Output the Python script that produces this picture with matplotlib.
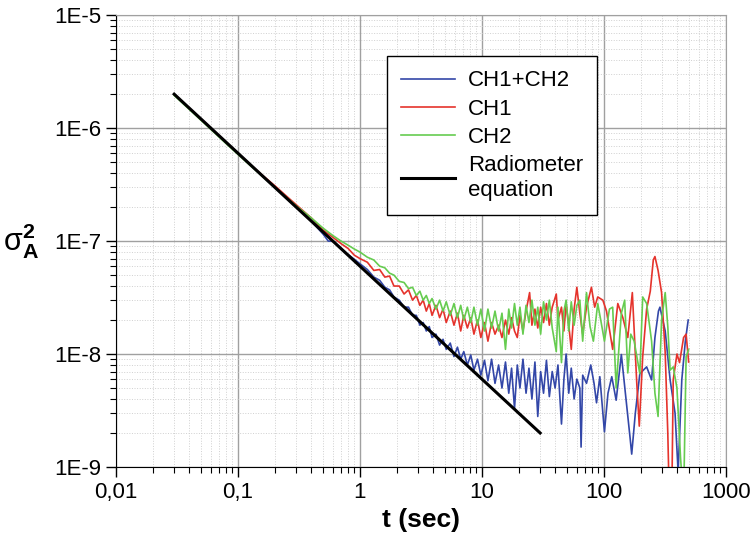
import matplotlib.pyplot as plt
from matplotlib.ticker import LogLocator, NullFormatter

plt.rcParams['font.family'] = ['Liberation Sans', 'DejaVu Sans']
plt.rcParams['mathtext.fontset'] = 'custom'
plt.rcParams['mathtext.rm'] = 'Liberation Sans'
plt.rcParams['mathtext.bf'] = 'Liberation Sans:bold'
plt.rcParams['mathtext.default'] = 'regular'

# radiometer equation
t_rad = [0.03, 30]
y_rad = [2.0e-6, 2.0e-9]

# CH1+CH2
t_blue = [0.03, 0.05, 0.08, 0.12, 0.2, 0.3, 0.4, 0.5, 0.55, 0.6, 0.7, 0.8, 0.9,
          1.0, 1.15, 1.3, 1.45, 1.6, 1.75, 1.9, 2.1, 2.3, 2.5, 2.7, 2.9, 3.1, 3.3,
          3.5, 3.7, 3.9, 4.2, 4.5, 4.8, 5.1, 5.5, 5.9, 6.3, 6.7, 7.1, 7.6, 8.1,
          8.6, 9.2, 9.8, 10.5, 11.2, 12.0, 12.8, 13.7, 14.6, 15.6, 16.6, 17.5,
          18.5, 19.5, 20.5, 21.7, 23.0, 24.3, 25.7, 27.2, 28.7, 30.3, 32.0, 33.8,
          35.7, 37.7, 39.8, 42.0, 44.9, 47.0, 49.0, 51.5, 54.0, 57.0, 60.0, 63.5,
          65.0, 67.0, 72.0, 78.0, 83.0, 87.0, 92.6, 101, 108, 116, 126, 139, 150,
          164, 169, 181, 197, 224, 246, 262, 280, 288, 318, 349, 383, 406, 435,
          465, 491]
y_blue = [2.0e-6, 1.2e-6, 7.5e-7, 5.0e-7, 3.0e-7, 2.0e-7, 1.5e-7, 1.15e-7, 1.0e-7,
          1.0e-7, 8.6e-8, 7.6e-8, 6.9e-8,
          6.3e-8, 5.6e-8, 4.8e-8, 4.5e-8, 3.9e-8, 3.7e-8, 3.2e-8, 3.0e-8, 2.6e-8,
          2.6e-8, 2.2e-8, 2.2e-8, 1.8e-8, 1.9e-8,
          1.6e-8, 1.75e-8, 1.4e-8, 1.5e-8, 1.2e-8, 1.35e-8, 1.1e-8, 1.25e-8, 9.5e-9,
          1.15e-8, 9.0e-9, 1.05e-8, 8.0e-9, 9.8e-9,
          7.2e-9, 9.0e-9, 6.5e-9, 8.8e-9, 5.8e-9, 9.0e-9, 5.5e-9, 8.0e-9, 5.0e-9,
          8.5e-9, 4.5e-9, 7.5e-9,
          3.3e-9, 8.0e-9, 5.0e-9, 9.0e-9, 4.5e-9, 7.5e-9, 4.0e-9, 8.5e-9, 2.8e-9,
          7.0e-9, 4.5e-9, 8.8e-9,
          4.2e-9, 7.0e-9, 5.0e-9, 8.0e-9, 2.4e-9, 6.0e-9, 1.0e-8, 4.5e-9, 7.5e-9,
          4.0e-9, 6.0e-9, 5.0e-9,
          1.5e-9, 6.5e-9, 5.5e-9, 8.0e-9, 5.5e-9, 3.7e-9, 6.3e-9, 2.05e-9, 4.5e-9,
          6.3e-9, 3.9e-9, 9.9e-9, 4.5e-9,
          1.8e-9, 1.3e-9, 3.0e-9, 6.7e-9, 7.7e-9, 5.9e-9, 1.4e-8, 2.4e-8, 2.6e-8,
          1.6e-8, 5.9e-9, 3.0e-9, 9.0e-10, 5.9e-9,
          1.3e-8, 2.0e-8]

# CH1
t_red = [0.03, 0.05, 0.08, 0.12, 0.16, 0.2, 0.25, 0.3, 0.4, 0.5, 0.6, 0.7, 0.8,
         0.9, 1.0, 1.15, 1.3, 1.45, 1.6, 1.75, 1.9, 2.1, 2.3, 2.5, 2.7, 2.9, 3.1,
         3.3, 3.5, 3.7, 3.9, 4.2, 4.5, 4.8, 5.1, 5.5, 5.9, 6.3, 6.7, 7.1, 7.6,
         8.1, 8.6, 9.2, 9.8, 10.5, 11.2, 12.0, 12.8, 13.7, 14.6, 15.6, 16.6, 17.5,
         18.5, 19.5, 20.5, 21.7, 23.0, 24.6, 25.7, 27.2, 28.7, 30.3, 32.0, 33.8,
         35.7, 37.7, 40.7, 42.0, 44.9, 47.0, 49.0, 51.5, 54.0, 57.0, 60.0, 63.5,
         67, 72, 79, 84, 89, 98, 105, 118, 130, 143, 157, 171, 186, 195, 208,
         224, 240, 254, 262, 278, 297, 318, 334, 344, 360, 370, 397, 417, 450,
         472, 495]
y_red = [2.0e-6, 1.2e-6, 7.5e-7, 5.0e-7, 3.8e-7, 3.1e-7, 2.5e-7, 2.1e-7, 1.6e-7,
         1.25e-7, 1.08e-7, 9.5e-8, 8.6e-8,
         7.5e-8, 7.0e-8, 6.5e-8, 5.5e-8, 5.6e-8, 4.8e-8, 4.9e-8, 4.0e-8, 4.0e-8,
         3.4e-8, 3.7e-8, 3.0e-8, 3.3e-8, 2.7e-8,
         3.0e-8, 2.4e-8, 2.8e-8, 2.2e-8, 2.7e-8, 2.1e-8, 2.5e-8, 1.9e-8, 2.4e-8,
         1.8e-8, 2.3e-8, 1.6e-8, 2.2e-8, 1.7e-8,
         2.1e-8, 1.5e-8, 2.0e-8, 1.4e-8, 1.9e-8, 1.3e-8, 1.9e-8, 1.5e-8, 1.8e-8,
         1.4e-8, 2.0e-8, 1.5e-8, 2.1e-8,
         1.6e-8, 1.4e-8, 2.2e-8, 1.6e-8, 2.4e-8, 3.5e-8, 1.8e-8, 2.5e-8, 1.7e-8,
         2.6e-8, 1.9e-8, 2.8e-8,
         1.8e-8, 2.6e-8, 3.4e-8, 2.0e-8, 2.6e-8, 1.6e-8, 2.8e-8, 1.8e-8, 1.1e-8,
         2.5e-8, 3.9e-8, 2.3e-8,
         1.5e-8, 2.6e-8, 3.9e-8, 2.6e-8, 3.2e-8, 3.0e-8, 2.4e-8, 1.1e-8, 2.8e-8,
         2.1e-8, 1.4e-8, 3.5e-8, 5.5e-9, 2.3e-9, 9.5e-9,
         2.5e-8, 3.6e-8, 6.8e-8, 7.3e-8, 5.5e-8, 3.5e-8, 1.03e-8, 2.0e-9, 5.0e-10,
         5.0e-10, 5.9e-9, 1.0e-8, 8.4e-9, 1.4e-8,
         1.5e-8, 8.5e-9]

# CH2
t_green = [0.03, 0.05, 0.08, 0.12, 0.2, 0.3, 0.4, 0.5, 0.6, 0.7, 0.8, 0.9, 1.0,
           1.15, 1.3, 1.45, 1.6, 1.75, 1.9, 2.1, 2.3, 2.5, 2.7, 2.9, 3.1, 3.3,
           3.5, 3.7, 3.9, 4.2, 4.5, 4.8, 5.1, 5.5, 5.9, 6.3, 6.7, 7.1, 7.6, 8.1,
           8.6, 9.2, 9.8, 10.5, 11.2, 12.0, 12.8, 13.7, 14.6, 15.6, 16.6, 17.5,
           18.5, 19.5, 20.5, 21.7, 23.0, 24.3, 25.7, 27.2, 28.7, 30.3, 32.0, 33.8,
           35.7, 37.7, 40.7, 42.0, 44.9, 47.0, 49.0, 51.5, 54.0, 57.0, 60.0, 63.5,
           67, 72, 77, 82, 89, 95, 101, 111, 118, 126, 139, 148, 157, 166, 177,
           197, 208, 224, 246, 262, 278, 297, 318, 334, 349, 370, 397, 425, 450,
           472, 495]
y_green = [1.95e-6, 1.17e-6, 7.3e-7, 4.9e-7, 3.0e-7, 2.05e-7, 1.6e-7, 1.3e-7,
           1.12e-7, 1.0e-7, 9.2e-8, 8.5e-8, 8.0e-8,
           7.2e-8, 6.8e-8, 6.0e-8, 5.8e-8, 5.2e-8, 5.0e-8, 4.4e-8, 4.3e-8, 3.8e-8,
           3.9e-8, 3.3e-8, 3.6e-8, 3.0e-8,
           3.3e-8, 2.8e-8, 3.1e-8, 2.5e-8, 3.0e-8, 2.4e-8, 2.9e-8, 2.2e-8, 2.8e-8,
           2.1e-8, 2.7e-8, 2.0e-8, 2.6e-8, 1.9e-8,
           2.6e-8, 1.8e-8, 2.5e-8, 1.6e-8, 2.5e-8, 1.7e-8, 2.4e-8, 1.6e-8, 2.3e-8,
           1.1e-8, 2.5e-8, 1.7e-8,
           2.8e-8, 1.8e-8, 2.6e-8, 1.5e-8, 2.7e-8, 1.9e-8, 3.0e-8, 1.8e-8, 2.6e-8,
           1.5e-8, 2.9e-8, 2.0e-8,
           3.0e-8, 1.7e-8, 1.05e-8, 2.6e-8, 8.4e-9, 2.4e-8, 3.0e-8, 1.6e-8, 2.9e-8,
           1.8e-8, 2.7e-8, 3.0e-8,
           1.3e-8, 3.5e-8, 1.75e-8, 1.3e-8, 2.8e-8, 1.9e-8, 1.3e-8, 2.5e-8, 2.6e-8,
           5.0e-9, 2.3e-8, 3.0e-8, 6.8e-9, 1.5e-8, 1.3e-8,
           6.7e-9, 3.2e-8, 2.8e-8, 1.3e-8, 4.5e-9, 2.8e-9, 2.0e-8, 3.5e-8, 1.75e-8,
           7.2e-9, 7.7e-9, 5.0e-9, 1.2e-9, 5.0e-10,
           9.5e-9, 1.1e-8]

xticks = [0.01, 0.1, 1, 10, 100, 1000]
xlabels = ['0,01', '0,1', '1', '10', '100', '1000']
yticks = [1e-9, 1e-8, 1e-7, 1e-6, 1e-5]
ylabels = ['1E-9', '1E-8', '1E-7', '1E-6', '1E-5']

fig = plt.figure(figsize=(7.53, 5.43), dpi=100)
ax = fig.add_axes([0.154, 0.140, 0.810, 0.832])

ax.plot(t_blue, y_blue, color='#3347a8', lw=1.2, label='CH1+CH2')
ax.plot(t_red, y_red, color='#e5332c', lw=1.2, label='CH1')
ax.plot(t_green, y_green, color='#66cc50', lw=1.2, label='CH2')
ax.plot(t_rad, y_rad, color='black', lw=2.2, label='Radiometer\nequation')

ax.set_xscale('log')
ax.set_yscale('log')
ax.set_xlim(0.01, 1000)
ax.set_ylim(1e-9, 1e-5)

ax.set_xticks(xticks, xlabels)
ax.set_yticks(yticks, ylabels)
ax.xaxis.set_minor_locator(LogLocator(base=10, subs=range(2, 10), numticks=20))
ax.yaxis.set_minor_locator(LogLocator(base=10, subs=range(2, 10), numticks=20))
ax.xaxis.set_minor_formatter(NullFormatter())
ax.yaxis.set_minor_formatter(NullFormatter())
ax.tick_params(which='major', direction='out', length=7, width=1, labelsize=16)
ax.tick_params(which='minor', direction='out', length=4, width=0.8)

ax.grid(which='major', color='#a0a0a0', lw=1.0)
ax.grid(which='minor', color='#d0d0d0', lw=0.7, ls=':')
ax.set_axisbelow(True)
for s in ['top', 'right']:
    ax.spines[s].set_color('#a0a0a0')

ax.set_xlabel('t (sec)', fontsize=19, fontweight='bold', labelpad=4)
ax.set_ylabel(r'$\sigma^{\mathbf{2}}_{\mathbf{A}}$', fontsize=22, rotation=0,
              va='center', ha='center')
ax.yaxis.set_label_coords(-0.155, 0.5)

leg = ax.legend(loc='upper left', bbox_to_anchor=(0.444, 0.91), fontsize=16,
                frameon=True, fancybox=False, edgecolor='black', framealpha=1,
                handlelength=2.4, handletextpad=0.6, labelspacing=0.33,
                borderpad=0.65, borderaxespad=0)
leg.get_frame().set_linewidth(1.0)

fig.savefig('out.png', dpi=100)
